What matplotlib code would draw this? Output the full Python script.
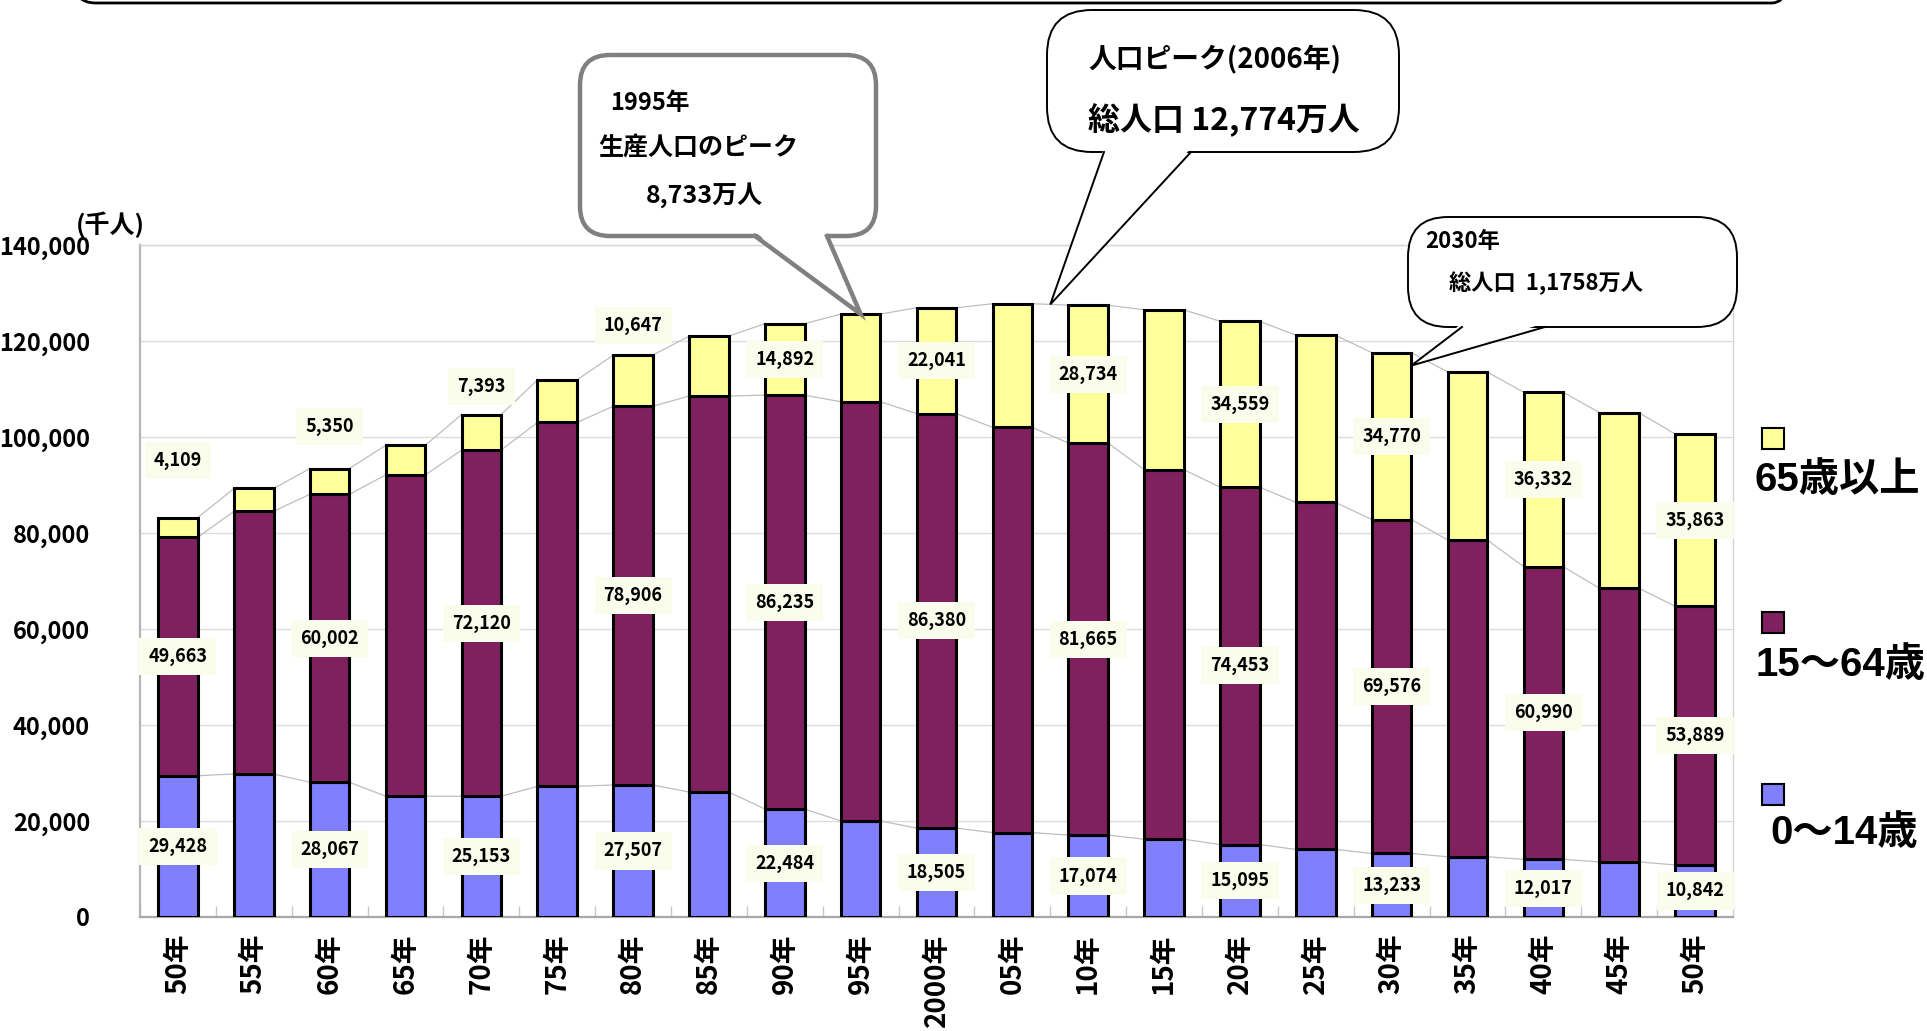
import matplotlib

matplotlib.use("Agg")
import matplotlib.pyplot as plt
from matplotlib.patches import FancyBboxPatch, Polygon, Rectangle
import numpy as np

W, H = 1927, 1031
DPI = 100

# population by age group, thousands of people
years = ["50年", "55年", "60年", "65年", "70年", "75年", "80年", "85年", "90年", "95年",
         "2000年", "05年", "10年", "15年", "20年", "25年", "30年", "35年", "40年", "45年", "50年"]
age_0_14 = [29428, 29798, 28067, 25166, 25153, 27221, 27507, 26033, 22484, 20014,
            18505, 17585, 17074, 16197, 15095, 14073, 13233, 12543, 12017, 11477, 10842]
age_15_64 = [49663, 54729, 60002, 66928, 72120, 75807, 78906, 82506, 86235, 87330,
             86380, 84422, 81665, 77000, 74453, 72300, 69576, 66000, 60990, 57000, 53889]
age_65 = [4109, 4747, 5350, 6181, 7393, 8865, 10647, 12468, 14892, 18261,
          22041, 25761, 28734, 33300, 34559, 34800, 34770, 35000, 36332, 36600, 35863]
labeled = list(range(0, 21, 2))  # every other bar carries value labels
y_ticks = list(range(0, 140001, 20000))

C_YOUNG = "#8080FF"
C_WORK = "#80205F"
C_OLD = "#FFFF99"
LABEL_BG = "#FAFDEB"
NARROW = ["Liberation Sans Narrow", "Noto Sans CJK JP", "DejaVu Sans"]
CJK = ["Noto Sans CJK JP", "DejaVu Sans"]
SANS = ["Liberation Sans", "Noto Sans CJK JP", "DejaVu Sans"]

young = np.array(age_0_14)
work = np.array(age_15_64)
old = np.array(age_65)
lvl1 = young
lvl2 = young + work
total = lvl2 + old
x = np.arange(len(years))
hw = 0.26

fig = plt.figure(figsize=(W / DPI, H / DPI), dpi=DPI)
ax = fig.add_axes([140 / W, (H - 917) / H, (1733 - 140) / W, (917 - 245) / H])

# grid and frame
ax.set_ylim(0, 140000)
ax.set_xlim(-0.5, len(years) - 0.5)
ax.set_yticks(y_ticks)
ax.set_yticklabels([f"{v:,}" for v in y_ticks], fontsize=17, fontweight="bold", family=NARROW)
ax.yaxis.grid(True, color="#DCDCDC", lw=1.0, zorder=0)
ax.set_axisbelow(True)
ax.tick_params(axis="y", length=0, pad=36)
ax.set_xticks(x)
ax.set_xticklabels(years, rotation=90, fontsize=20, fontweight="bold", family=NARROW, va="top")
ax.tick_params(axis="x", length=0, pad=12)
ax.set_xticks(np.arange(-0.5, len(years)), minor=True)
ax.tick_params(axis="x", which="minor", direction="in", length=8, color="#C8C8C8", width=1)
for side in ["top", "right"]:
    ax.spines[side].set_color("#D5D5D5")
    ax.spines[side].set_linewidth(1)
ax.spines["left"].set_color("#B5B5B5")
ax.spines["left"].set_linewidth(1.6)
ax.spines["bottom"].set_color("#A8A8A8")
ax.spines["bottom"].set_linewidth(1.6)

# stacked bars
bar_kw = dict(width=2 * hw, edgecolor="black", linewidth=2.2, zorder=3)
ax.bar(x, young, color=C_YOUNG, **bar_kw)
ax.bar(x, work, bottom=lvl1, color=C_WORK, **bar_kw)
ax.bar(x, old, bottom=lvl2, color=C_OLD, **bar_kw)

# series lines between neighbouring bars
for lvl in (lvl1, lvl2, total):
    for i in range(len(years) - 1):
        ax.plot([i + hw, i + 1 - hw], [lvl[i], lvl[i + 1]], color="#BEBEBE", lw=0.9, zorder=2)

# value labels
lab_kw = dict(ha="center", va="center", fontsize=13, fontweight="bold", family=NARROW, zorder=6,
              bbox=dict(boxstyle="square,pad=0.5", fc=LABEL_BG, ec="none"))
above_offset = {0: 12000, 2: 8700, 4: 5800, 6: 6200}  # small 65+ segments: label above the bar
for i in labeled:
    ax.text(i, young[i] / 2, f"{young[i]:,}", **lab_kw)
    ax.text(i, lvl1[i] + work[i] / 2, f"{work[i]:,}", **lab_kw)
    y_old = total[i] + above_offset[i] if i in above_offset else lvl2[i] + old[i] / 2
    ax.text(i, y_old, f"{old[i]:,}", **lab_kw)

# overlay in pixel coordinates for callouts and legend
ov = fig.add_axes([0, 0, 1, 1], zorder=10)
ov.set_xlim(0, W)
ov.set_ylim(H, 0)
ov.axis("off")
ov.patch.set_alpha(0)


def to_px(xv, yv):
    dx, dy = ax.transData.transform((xv, yv))
    return dx, H - dy


def callout(x0, y0, x1, y1, base, tip, ec, lw, r):
    ov.add_patch(FancyBboxPatch((x0, y0), x1 - x0, y1 - y0,
                                boxstyle=f"round,pad=0,rounding_size={r}",
                                fc="white", ec=ec, lw=lw, zorder=5))
    bl, br = base
    ov.add_patch(Polygon([(bl, y1 - 4), tip, (br, y1 - 4)], closed=True, fc="white", ec="none", zorder=6))
    ov.plot([bl, tip[0], br], [y1, tip[1], y1], color=ec, lw=lw, zorder=7, solid_joinstyle="miter")


# frame bottom at the top edge
ov.add_patch(FancyBboxPatch((74, -80), 1720, 83, boxstyle="round,pad=0,rounding_size=22",
                            fc="none", ec="black", lw=2.0, zorder=4))

# 1995 peak of working-age population
callout(580, 55, 876, 236, (755, 827), to_px(9, total[9]), "#808080", 3.2, 30)
ov.text(610, 103, "1995年", fontsize=17, fontweight="bold", family=NARROW, va="center", zorder=8)
ov.text(598, 148, "生産人口のピーク", fontsize=18, fontweight="bold", family=CJK, va="center", zorder=8)
ov.text(646, 195, "8,733万人", fontsize=18, fontweight="bold", family=NARROW, va="center", zorder=8)

# 2006 population peak
callout(1047, 10, 1399, 152, (1104, 1191), to_px(11.5, (total[11] + total[12]) / 2), "black", 1.4, 45)
ov.text(1088, 60, "人口ピーク(2006年)", fontsize=20, fontweight="bold", family=NARROW, va="center", zorder=8)
ov.text(1088, 120, "総人口 12,774万人", fontsize=23, fontweight="bold", family=NARROW, va="center", zorder=8)

# 2030 total population
callout(1408, 217, 1737, 327, (1462, 1545), to_px(16 + hw, total[16] - 2700), "black", 1.4, 40)
ov.text(1425, 242, "2030年", fontsize=16, fontweight="bold", family=NARROW, va="center", zorder=8)
ov.text(1449, 283, "総人口  1,1758万人", fontsize=16, fontweight="bold", family=NARROW, va="center", zorder=8)

# unit label
ov.text(76, 225, "(千人)", fontsize=18, fontweight="bold", family=NARROW, va="center")

# legend on the right
legend = [(C_OLD, "65歳以上", 428, 480, 1755),
          (C_WORK, "15～64歳", 612, 665, 1755),
          (C_YOUNG, "0～14歳", 784, 833, 1770)]
for color, text, sq_y, txt_y, txt_x in legend:
    ov.add_patch(Rectangle((1762, sq_y), 22, 21, fc=color, ec="black", lw=1.5))
    ov.text(txt_x, txt_y, text, fontsize=29, fontweight="bold", family=SANS, va="center")

fig.savefig("out.png", dpi=DPI)
